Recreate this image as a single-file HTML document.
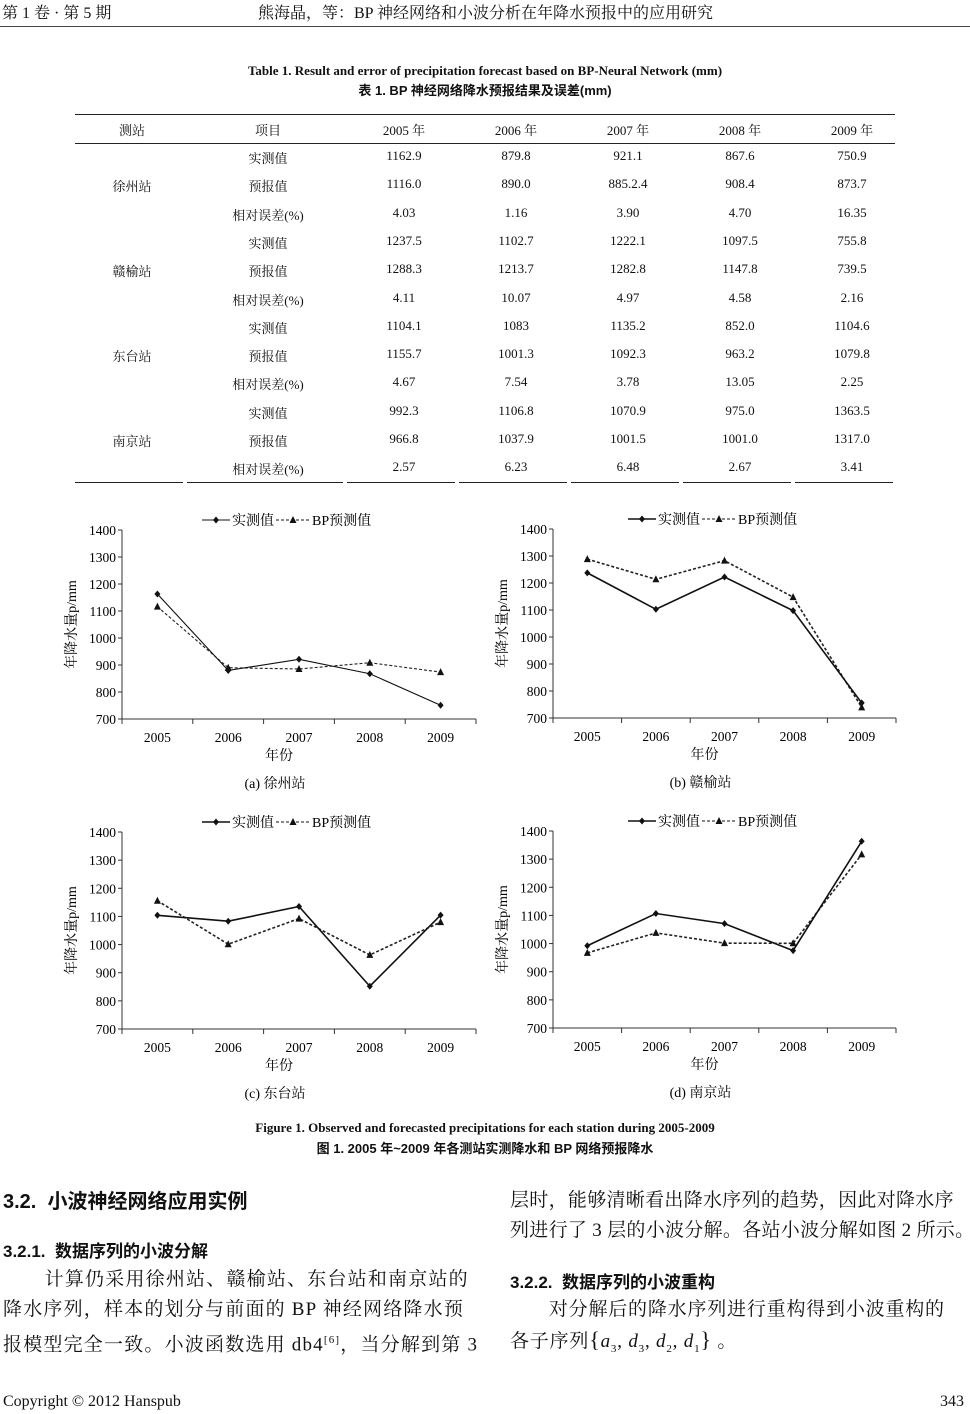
<!DOCTYPE html>
<html><head><meta charset="utf-8">
<style>
body{margin:0;width:970px;height:1414px;position:relative;background:#fff;font-family:"Liberation Serif","Noto Serif CJK SC",serif;color:#111;overflow:hidden}
.t{position:absolute;white-space:nowrap}
.c{transform:translateX(-50%)}
.b{font-weight:bold}
.tb{font-size:13px}
</style></head><body>
<div class="t" style="left:2px;top:0px;font-size:16px">第 1 卷 · 第 5 期</div>
<div class="t" style="left:258px;top:0px;font-size:16px">熊海晶，等：BP 神经网络和小波分析在年降水预报中的应用研究</div>
<div style="position:absolute;left:0;top:26px;width:970px;height:1px;background:#444"></div>

<div class="t c b" style="left:485px;top:63px;font-size:13px">Table 1. Result and error of precipitation forecast based on BP-Neural Network (mm)</div>
<div class="t c b" style="left:485px;top:80px;font-size:13px;font-family:'Liberation Sans','Noto Sans CJK SC',sans-serif">表 1. BP 神经网络降水预报结果及误差(mm)</div>
<div id="table"></div>

<svg id="charts" width="970" height="1414" style="position:absolute;left:0;top:0"></svg>

<div class="t c b" style="left:485px;top:1120px;font-size:13px">Figure 1. Observed and forecasted precipitations for each station during 2005-2009</div>
<div class="t c b" style="left:485px;top:1138px;font-size:13px;font-family:'Liberation Sans','Noto Sans CJK SC',sans-serif">图 1. 2005 年~2009 年各测站实测降水和 BP 网络预报降水</div>

<div class="t b" style="left:3px;top:1185px;font-size:20px;font-family:'Liberation Sans','Noto Sans CJK SC',sans-serif">3.2.&nbsp; 小波神经网络应用实例</div>
<div class="t b" style="left:3px;top:1237px;font-size:17px;font-family:'Liberation Sans','Noto Sans CJK SC',sans-serif">3.2.1.&nbsp; 数据序列的小波分解</div>
<div class="t" style="left:3px;top:1265px;font-size:19px;line-height:30px;letter-spacing:1.2px">&nbsp;&nbsp;&nbsp;&nbsp;&nbsp;&nbsp;&nbsp;计算仍采用徐州站、赣榆站、东台站和南京站的<br>降水序列，样本的划分与前面的 BP 神经网络降水预<br>报模型完全一致。小波函数选用 db4<sup style="font-size:11px">[6]</sup>，当分解到第 3</div>
<div class="t" style="left:510px;top:1186px;font-size:19px;line-height:30px;letter-spacing:0.3px">层时，能够清晰看出降水序列的趋势，因此对降水序<br>列进行了 3 层的小波分解。各站小波分解如图 2 所示。</div>
<div class="t b" style="left:510px;top:1268px;font-size:17px;font-family:'Liberation Sans','Noto Sans CJK SC',sans-serif">3.2.2.&nbsp; 数据序列的小波重构</div>
<div class="t" style="left:510px;top:1295px;font-size:19px;line-height:30px;letter-spacing:0.8px">&nbsp;&nbsp;&nbsp;&nbsp;&nbsp;&nbsp;&nbsp;对分解后的降水序列进行重构得到小波重构的<br>各子序列<span style="font-size:22px">{</span><i>a</i><sub style="font-size:11px">3</sub>, <i>d</i><sub style="font-size:11px">3</sub>, <i>d</i><sub style="font-size:11px">2</sub>, <i>d</i><sub style="font-size:11px">1</sub><span style="font-size:22px">}</span> 。</div>

<div class="t" style="left:3px;top:1393px;font-size:16px">Copyright © 2012 Hanspub</div>
<div class="t" style="left:940px;top:1393px;font-size:16px">343</div>

<script>
const years=["2005","2006","2007","2008","2009"];
const stations=["徐州站","赣榆站","东台站","南京站"];
const obsA=[1162.9,879.8,921.1,867.6,750.9];
const fcA=[1116.0,890.0,885.2,908.4,873.7];
const errA=["4.03","1.16","3.90","4.70","16.35"];
const obsB=[1237.5,1102.7,1222.1,1097.5,755.8];
const fcB=[1288.3,1213.7,1282.8,1147.8,739.5];
const errB=["4.11","10.07","4.97","4.58","2.16"];
const obsC=[1104.1,1083,1135.2,852.0,1104.6];
const fcC=[1155.7,1001.3,1092.3,963.2,1079.8];
const errC=["4.67","7.54","3.78","13.05","2.25"];
const obsD=[992.3,1106.8,1070.9,975.0,1363.5];
const fcD=[966.8,1037.9,1001.5,1001.0,1317.0];
const errD=["2.57","6.23","6.48","2.67","3.41"];
const obsLabels=[["1162.9","879.8","921.1","867.6","750.9"],["1237.5","1102.7","1222.1","1097.5","755.8"],["1104.1","1083","1135.2","852.0","1104.6"],["992.3","1106.8","1070.9","975.0","1363.5"]];
const fcLabels=[["1116.0","890.0","885.2.4","908.4","873.7"],["1288.3","1213.7","1282.8","1147.8","739.5"],["1155.7","1001.3","1092.3","963.2","1079.8"],["966.8","1037.9","1001.5","1001.0","1317.0"]];
const errs=[errA,errB,errC,errD];
const yTicks=[700,800,900,1000,1100,1200,1300,1400];

const tb=document.getElementById('table');
const colX=[132,268,404,516,628,740,852];
function addT(x,y,s,name){const d=document.createElement('div');d.className='t c tb';d.style.left=x+'px';d.style.top=y+'px';d.textContent=s;


tb.appendChild(d);}
function addLine(x,y,w,name){const d=document.createElement('div');d.style.cssText='position:absolute;left:'+x+'px;top:'+y+'px;width:'+w+'px;height:1px;background:#222';


tb.appendChild(d);}
addLine(75,114,820,'table-top-rule');addLine(75,143,820,'table-header-rule');
const heads=["测站","项目","2005 年","2006 年","2007 年","2008 年","2009 年"];
heads.forEach((h,i)=>addT(colX[i],120,h,'table-header-cell'));
const items=["实测值","预报值","相对误差(%)"];
for(let s=0;s<4;s++){
 for(let r=0;r<3;r++){
  const y=148+(s*3+r)*28.3;
  if(r==1)addT(colX[0],y,stations[s],'station-name');
  addT(colX[1],y,items[r],'item-label');
  for(let k=0;k<5;k++){const v=r==0?obsLabels[s][k]:r==1?fcLabels[s][k]:errs[s][k];addT(colX[2+k],y,v,'table-value');}
 }
}
[[75,110],[187,158],[347,110],[459,110],[571,110],[683,110],[795,100]].forEach(a=>addLine(a[0],482,a[1]-2,'table-bottom-rule'));

const svg=document.getElementById('charts');const NS='http://www.w3.org/2000/svg';
function el(tag,attrs,name,txt){const e=document.createElementNS(NS,tag);for(const k in attrs)e.setAttribute(k,attrs[k]);


if(txt!==undefined)e.textContent=txt;svg.appendChild(e);return e;}
const panels=[
 {x0:122,x1:476,yTop:530,yBot:719,obs:obsA,fc:fcA,cap:"(a)  徐州站",sw:1.1},
 {x0:553,x1:896,yTop:529,yBot:718,obs:obsB,fc:fcB,cap:"(b)  赣榆站",sw:1.6},
 {x0:122,x1:476,yTop:832,yBot:1029,obs:obsC,fc:fcC,cap:"(c)  东台站",sw:1.6},
 {x0:553,x1:896,yTop:831,yBot:1028,obs:obsD,fc:fcD,cap:"(d)  南京站",sw:1.6}];
const F='"Liberation Serif","Noto Serif CJK SC",serif';
panels.forEach((p,pi)=>{
 const step=(p.x1-p.x0)/5;
 const xs=i=>p.x0+step*(i+0.5);
 const ys=v=>p.yBot-(v-700)/700*(p.yBot-p.yTop);
 el('line',{x1:p.x0,y1:p.yTop,x2:p.x0,y2:p.yBot,stroke:'#333'},'y-axis');
 el('line',{x1:p.x0,y1:p.yBot,x2:p.x1,y2:p.yBot,stroke:'#333'},'x-axis');
 yTicks.forEach(t=>{el('line',{x1:p.x0-4,y1:ys(t),x2:p.x0,y2:ys(t),stroke:'#333'},'y-tick');
  el('text',{x:p.x0-6,y:ys(t)+5,'text-anchor':'end','font-size':13.5,'font-family':F},'y-tick-label',t);});
 for(let i=0;i<=5;i++)el('line',{x1:p.x0+step*i,y1:p.yBot,x2:p.x0+step*i,y2:p.yBot+5,stroke:'#333'},'x-tick');
 years.forEach((y,i)=>el('text',{x:xs(i),y:p.yBot+23,'text-anchor':'middle','font-size':13.5,'font-family':F},'x-tick-label',y));
 el('text',{x:(p.x0+p.x1)/2-20,y:p.yBot+41,'text-anchor':'middle','font-size':14,'font-family':F},'x-axis-title','年份');
 const cy=(p.yTop+p.yBot)/2;
 const ax=p.x0-46;
 el('text',{x:ax,y:cy,'text-anchor':'middle','font-size':14,'font-family':F,transform:`rotate(-90 ${ax} ${cy})`},'y-axis-title','年降水量p/mm');
 el('text',{x:(p.x0+p.x1)/2-24,y:p.yBot+69,'text-anchor':'middle','font-size':14,'font-family':F},'panel-caption',p.cap);
 el('polyline',{points:p.fc.map((v,i)=>xs(i)+','+ys(v)).join(' '),fill:'none',stroke:'#222','stroke-width':p.sw,'stroke-dasharray':'3,2'},'forecast-line');
 el('polyline',{points:p.obs.map((v,i)=>xs(i)+','+ys(v)).join(' '),fill:'none',stroke:'#111','stroke-width':p.sw},'observed-line');
 p.fc.forEach((v,i)=>{const x=xs(i),y=ys(v);el('polygon',{points:`${x},${y-4} ${x-3.5},${y+3} ${x+3.5},${y+3}`,fill:'#111'},'forecast-point');});
 p.obs.forEach((v,i)=>{const x=xs(i),y=ys(v);el('polygon',{points:`${x},${y-3.5} ${x+3},${y} ${x},${y+3.5} ${x-3},${y}`,fill:'#111'},'observed-point');});
 const lx=p.x0+(pi%2==0?80:75),ly=p.yTop-10;
 el('line',{x1:lx,y1:ly,x2:lx+28,y2:ly,stroke:'#111','stroke-width':p.sw},'legend-observed-line');
 el('polygon',{points:`${lx+14},${ly-3.5} ${lx+17},${ly} ${lx+14},${ly+3.5} ${lx+11},${ly}`,fill:'#111'},'legend-observed-marker');
 el('text',{x:lx+30,y:ly+5,'font-size':14,'font-family':F},'legend-observed-label','实测值');
 el('line',{x1:lx+74,y1:ly,x2:lx+108,y2:ly,stroke:'#111','stroke-width':1.1,'stroke-dasharray':'3,2'},'legend-forecast-line');
 el('polygon',{points:`${lx+91},${ly-4} ${lx+87.5},${ly+3} ${lx+94.5},${ly+3}`,fill:'#111'},'legend-forecast-marker');
 el('text',{x:lx+110,y:ly+5,'font-size':14,'font-family':F},'legend-forecast-label','BP预测值');
});
</script>
</body></html>
